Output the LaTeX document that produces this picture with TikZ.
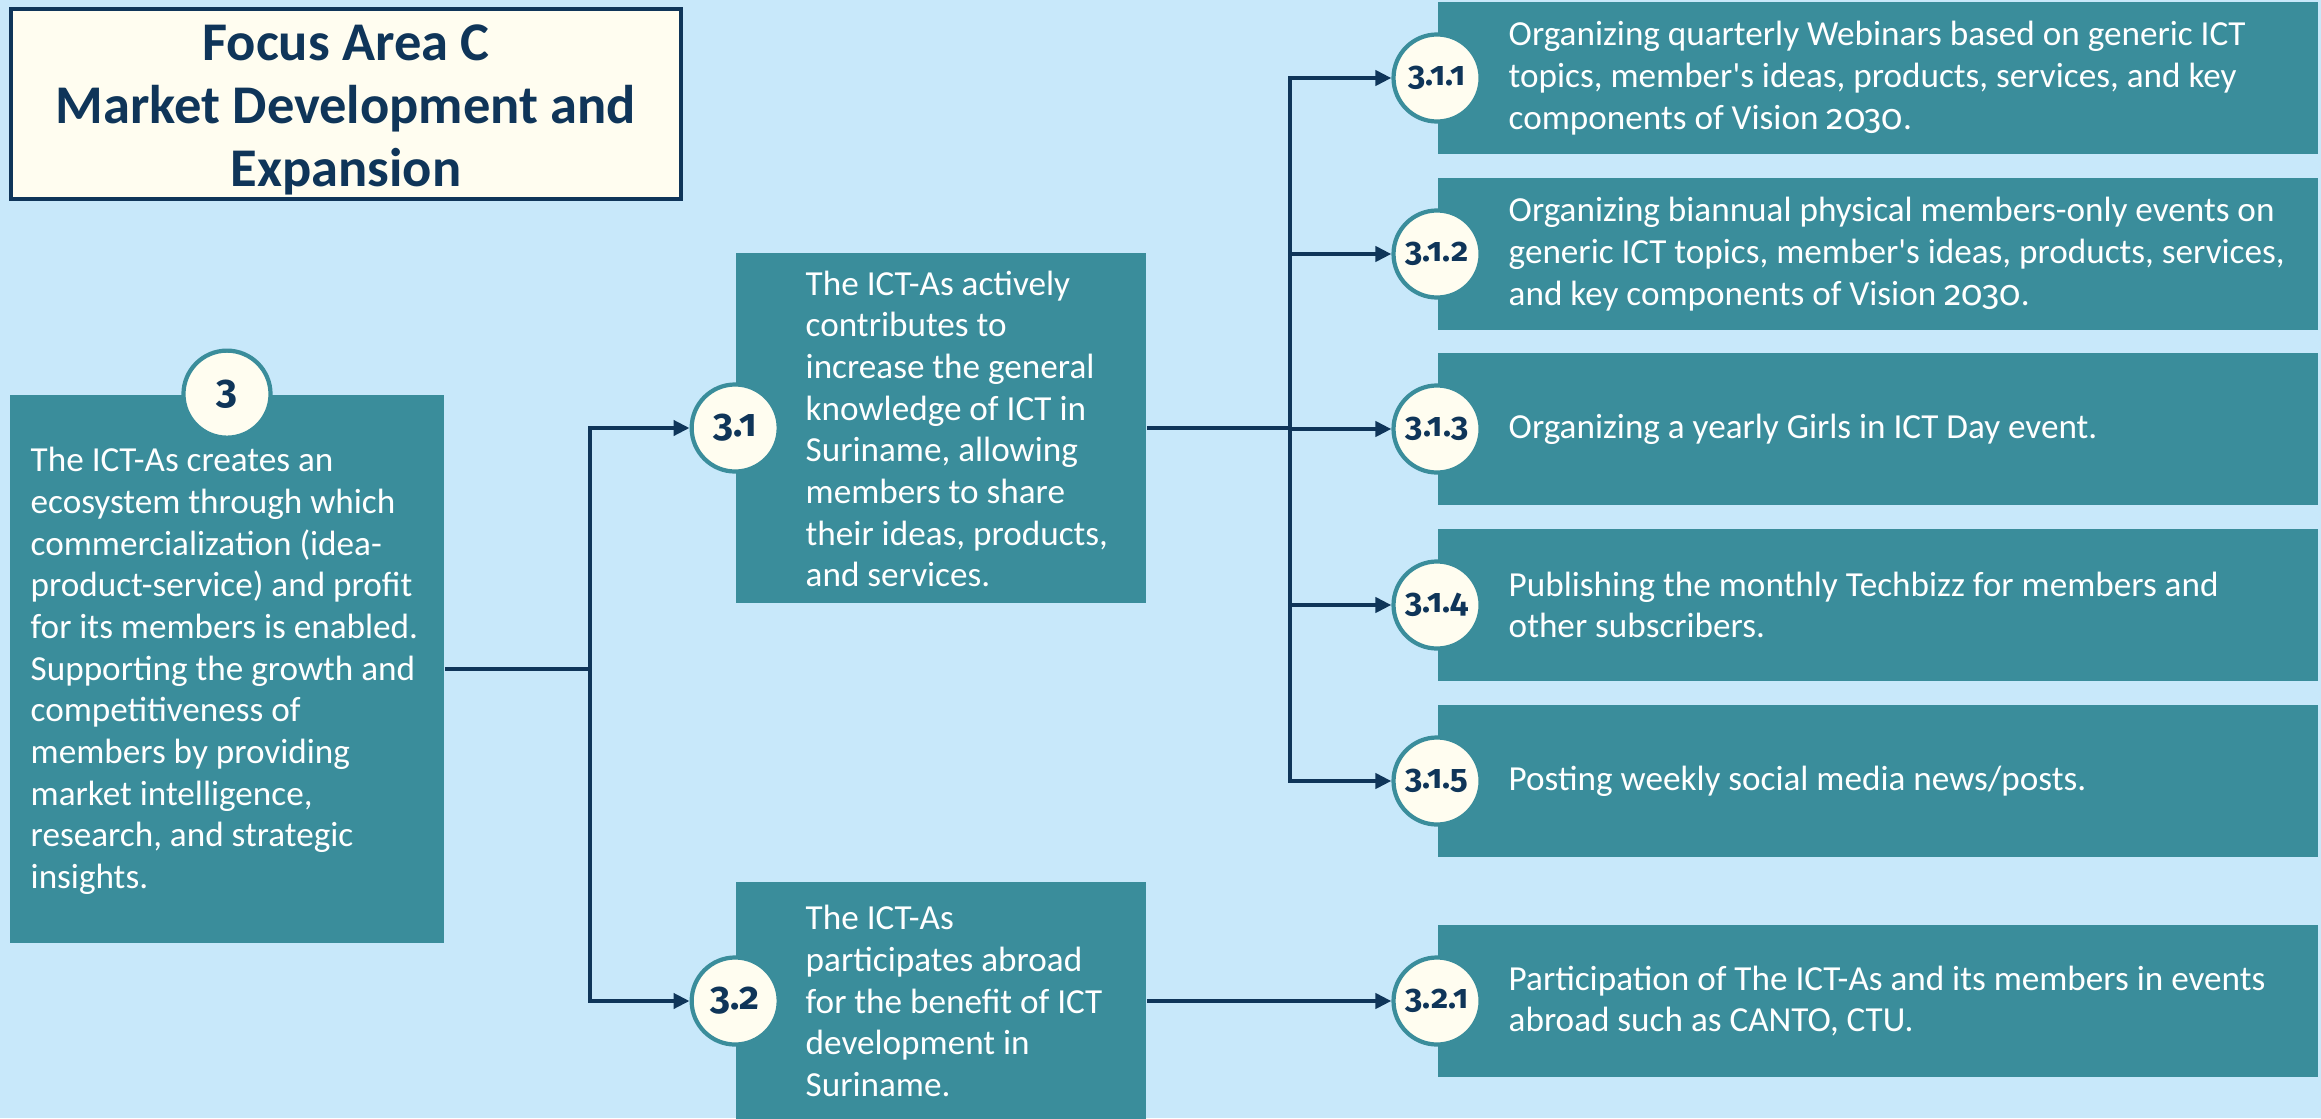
\documentclass[tikz,border=0pt]{standalone}
\usepackage{fontspec}
\setmainfont{Carlito}
\newfontfamily\numfont{Fira Sans}[Numbers=OldStyle]
\usetikzlibrary{arrows.meta, positioning}
\definecolor{bgblue}{HTML}{C8E8FA}
\definecolor{boxteal}{HTML}{3A8D9B}
\definecolor{linenavy}{HTML}{0F3559}
\definecolor{cream}{HTML}{FFFDF0}
\newcommand{\yr}{{\numfont 2030}}
\newcommand{\apos}{\textquotesingle}

\begin{document}
\begin{tikzpicture}
  [x=0.01cm, y=-0.01cm,
   box/.style={fill=boxteal, inner sep=0pt},
   num/.style={circle, draw=boxteal, line width=1.2pt, fill=cream, minimum size=0.87cm,
     inner sep=0pt, text=linenavy, font=\numfont\bfseries\fontsize{9.5}{12}\selectfont},
   txt/.style={anchor=west, text=white, align=left, inner sep=0pt,
     font=\fontsize{10}{11.85}\selectfont},
   link/.style={draw=linenavy, line width=1.2pt},
   arrow/.style={link, -{Triangle[length=0.16cm, width=0.15cm]}}]
  \fill[bgblue] (0,0) rectangle (2321,1118);
  \useasboundingbox (0,0) rectangle (2321,1118);

  \node (title) at (346,104) [draw=linenavy, line width=1.2pt, fill=cream,
    minimum width=6.7cm, minimum height=1.9cm] {};
  \node (head) at (346,110) [align=center, text=linenavy, inner sep=0pt,
    font=\bfseries\fontsize{15.5}{17.8}\selectfont]
    {Focus Area C\\Market Development and\\Expansion};

  \node (b3) at (227,669) [box, minimum width=4.34cm, minimum height=5.48cm] {};
  \node (c3) at (b3.north) [num, font=\numfont\bfseries\fontsize{11.5}{13}\selectfont] {3};
  \node (t3) at (30,671) [txt]
    {The ICT-As creates an\\ecosystem through which\\commercialization (idea-\\
     product-service) and profit\\for its members is enabled.\\Supporting the growth and\\
     competitiveness of\\members by providing\\market intelligence,\\
     research, and strategic\\insights.};

  \node (b31) at (941,428) [box, minimum width=4.1cm, minimum height=3.49cm] {};
  \node (c31) at (b31.west) [num, font=\numfont\bfseries\fontsize{11}{13}\selectfont] {3.1};
  \node (t31) at (805,429) [txt]
    {The ICT-As actively\\contributes to\\increase the general\\knowledge of ICT in\\
     Suriname, allowing\\members to share\\their ideas, products,\\and services.};

  \node (b32) at (941,1001) [box, minimum width=4.1cm, minimum height=2.38cm] {};
  \node (c32) at (b32.west) [num, font=\numfont\bfseries\fontsize{11}{13}\selectfont] {3.2};
  \node (t32) at (805,1001) [txt]
    {The ICT-As\\participates abroad\\for the benefit of ICT\\development in\\Suriname.};

  \foreach \i/\y/\txt in {
    1/78/{Organizing quarterly Webinars based on generic ICT\\topics, member\apos s ideas, products, services, and key\\components of Vision \yr.},
    2/254/{Organizing biannual physical members-only events on\\generic ICT topics, member\apos s ideas, products, services,\\and key components of Vision \yr.},
    3/429/{Organizing a yearly Girls in ICT Day event.},
    4/605/{Publishing the monthly Techbizz for members and\\other subscribers.},
    5/781/{Posting weekly social media news/posts.}}{
    \node (b31\i) at (1878,\y) [box, minimum width=8.8cm, minimum height=1.52cm] {};
    \node (c31\i) at (b31\i.west) [num] {3.1.\i};
    \node (t31\i) at (1508,\y) [txt] {\txt};
  }

  \node (b321) at (1878,1001) [box, minimum width=8.8cm, minimum height=1.52cm] {};
  \node (c321) at (b321.west) [num] {3.2.1};
  \node (t321) at (1508,1001) [txt]
    {Participation of The ICT-As and its members in events\\abroad such as CANTO, CTU.};

  \coordinate [right=1.45cm of b3.east] (j1);
  \coordinate [right=1.43cm of b31.east] (j2);
  \draw [link] (b3.east) -- (j1);
  \draw [arrow] (j1) |- (c31);
  \draw [arrow] (j1) |- (c32);
  \draw [link] (b31.east) -- (j2);
  \foreach \i in {1,...,5}
    \draw [arrow] (j2) |- (c31\i);
  \draw [arrow] (b32.east) -- (c321);
\end{tikzpicture}
\end{document}
